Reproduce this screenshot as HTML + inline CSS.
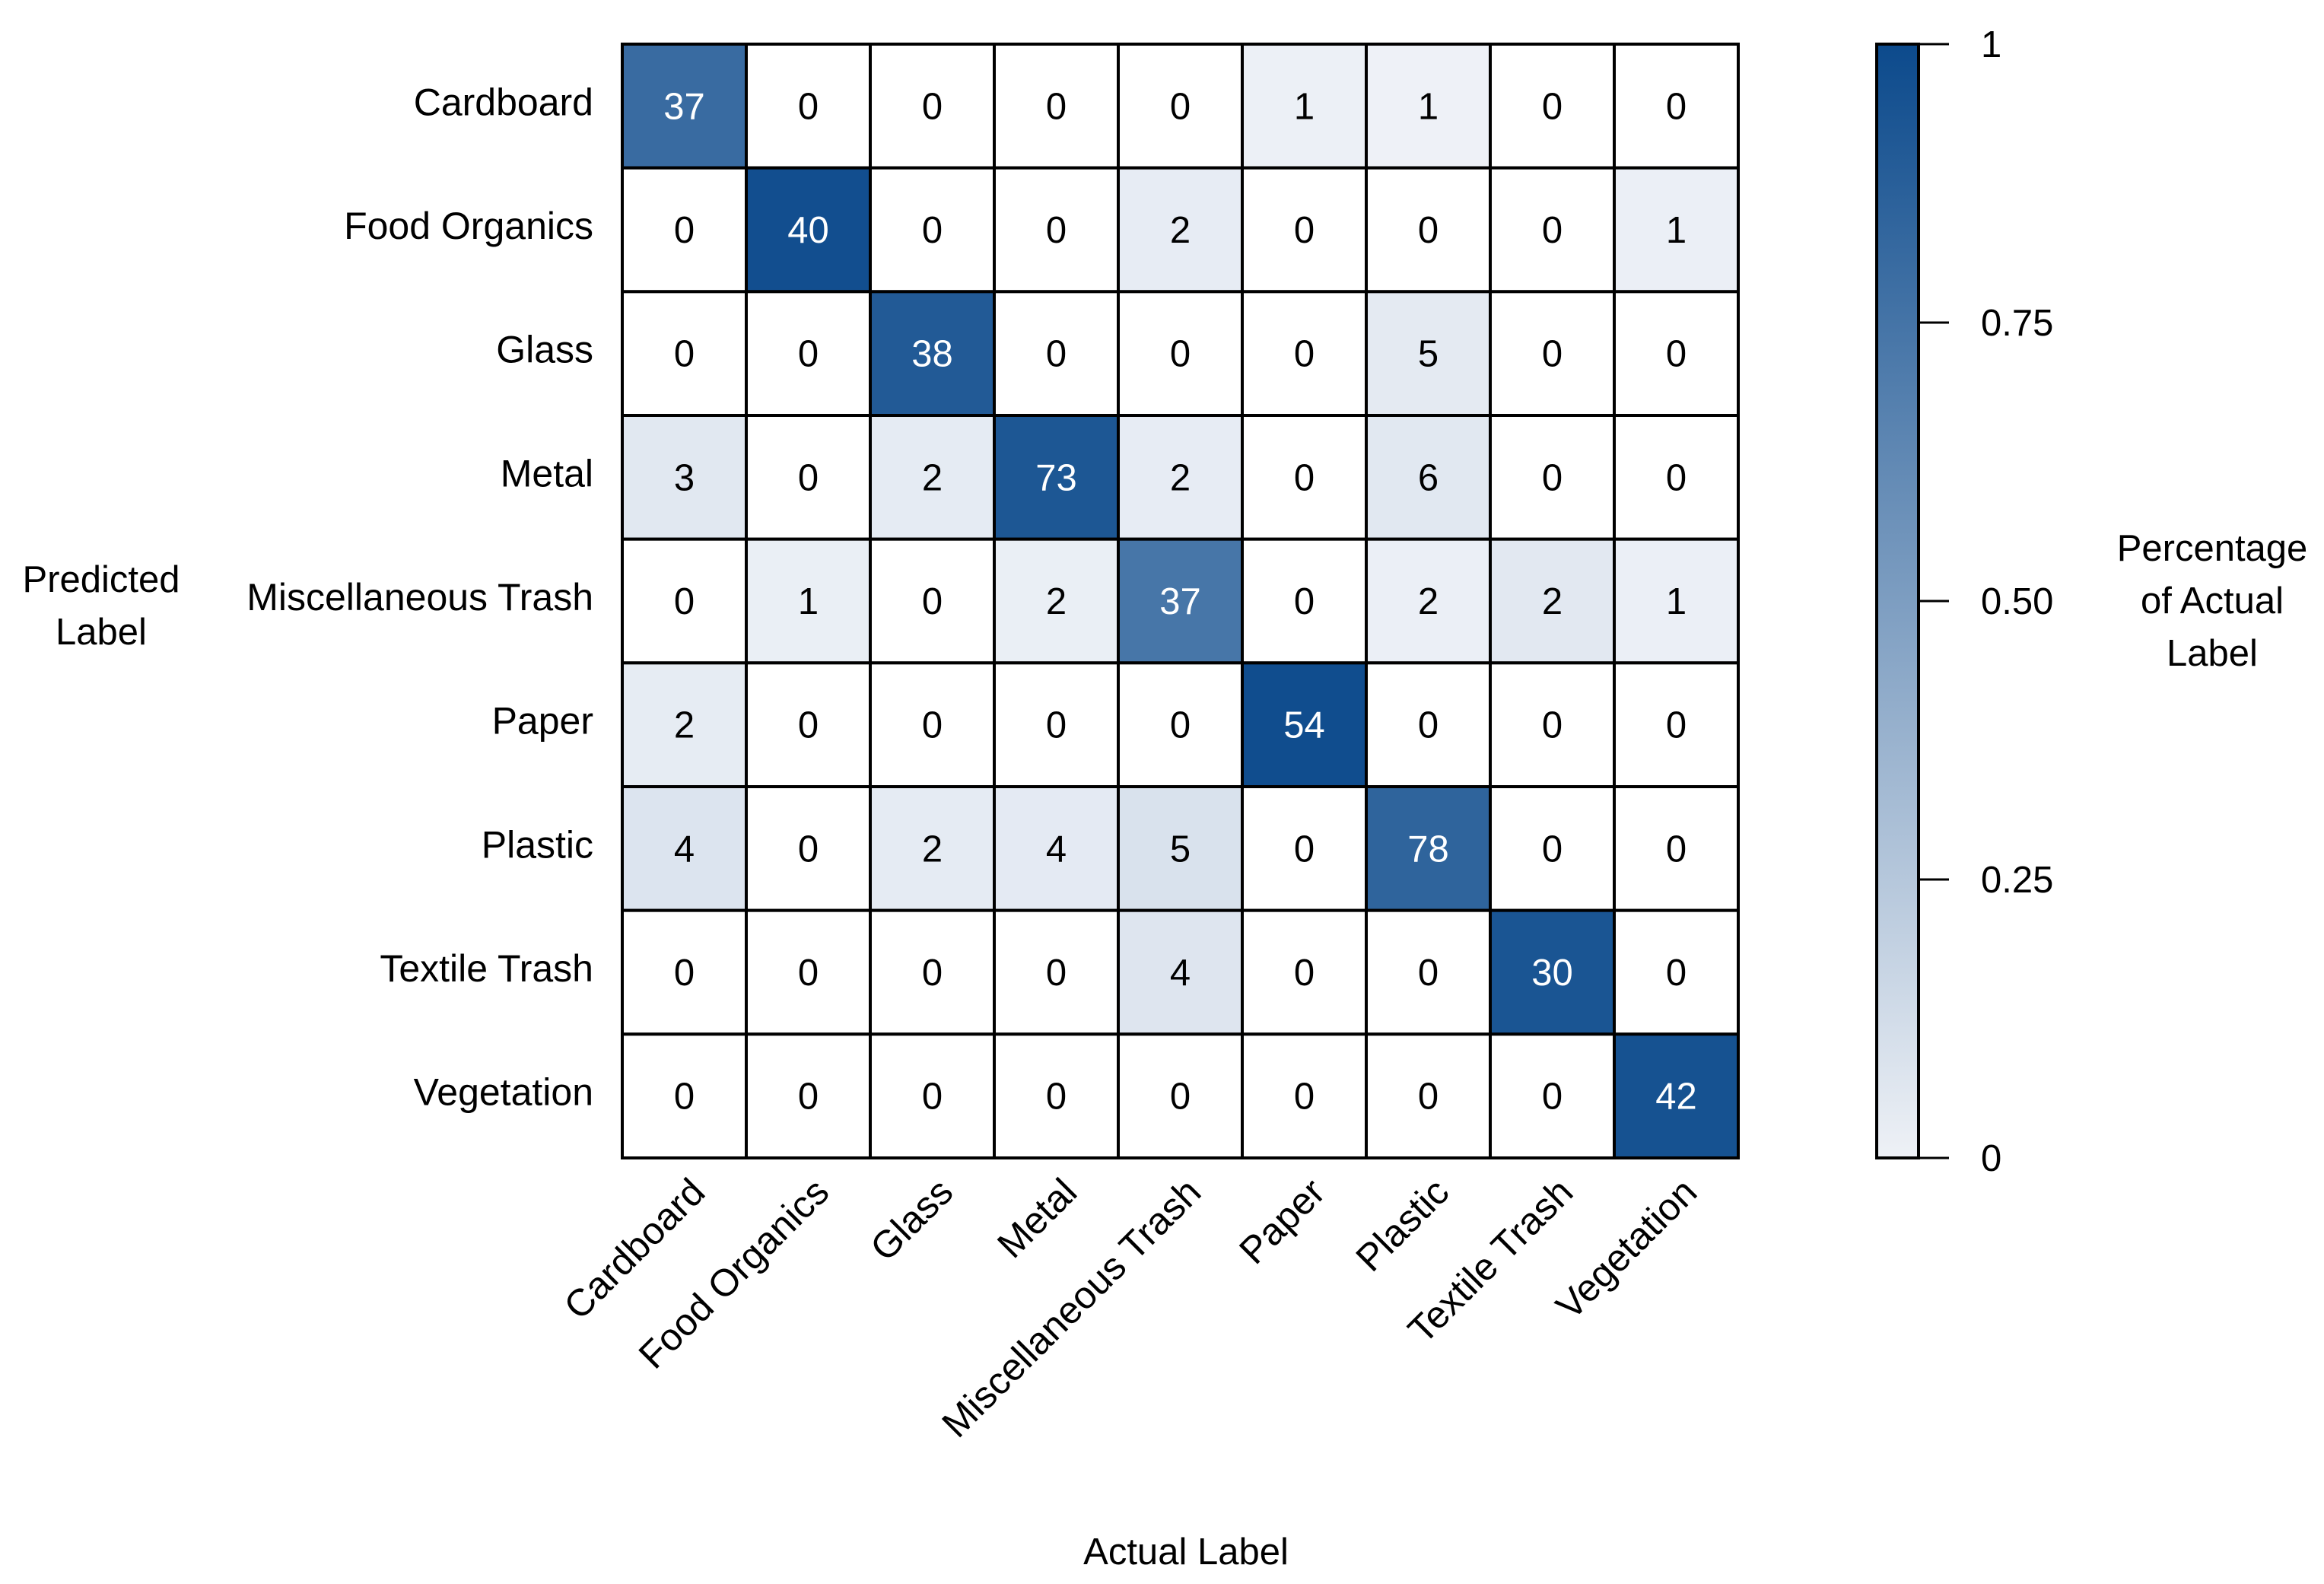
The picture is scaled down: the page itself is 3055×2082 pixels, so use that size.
<!DOCTYPE html>
<html><head><meta charset="utf-8"><style>
html,body{margin:0;padding:0;background:#fff;}
svg{display:block;font-family:"Liberation Sans",sans-serif;}
</style></head><body>
<svg id="chart" width="3055" height="2082" viewBox="0 0 3055 2082" xmlns="http://www.w3.org/2000/svg">
<defs><linearGradient id="cbgrad" x1="0" y1="1" x2="0" y2="0"><stop offset="0" stop-color="#eef1f6"/><stop offset="1" stop-color="#0c4a8c"/></linearGradient></defs>
<g id="cells"></g>
<g id="labels"></g>
<g id="cbar"></g>
<text x="133" y="778" font-size="49" text-anchor="middle">Predicted</text>
<text x="133" y="847" font-size="49" text-anchor="middle">Label</text>
<text x="1559" y="2056" font-size="49" text-anchor="middle">Actual Label</text>
<text x="2908" y="737" font-size="49" text-anchor="middle">Percentage</text>
<text x="2908" y="806" font-size="49" text-anchor="middle">of Actual</text>
<text x="2908" y="875" font-size="49" text-anchor="middle">Label</text>
</svg>
<script>
const categories = ["Cardboard","Food Organics","Glass","Metal","Miscellaneous Trash","Paper","Plastic","Textile Trash","Vegetation"];
const rowCardboard = [37,0,0,0,0,1,1,0,0];
const rowFood = [0,40,0,0,2,0,0,0,1];
const rowGlass = [0,0,38,0,0,0,5,0,0];
const rowMetal = [3,0,2,73,2,0,6,0,0];
const rowMisc = [0,1,0,2,37,0,2,2,1];
const rowPaper = [2,0,0,0,0,54,0,0,0];
const rowPlastic = [4,0,2,4,5,0,78,0,0];
const rowTextile = [0,0,0,0,4,0,0,30,0];
const rowVeg = [0,0,0,0,0,0,0,0,42];
const matrix = [rowCardboard,rowFood,rowGlass,rowMetal,rowMisc,rowPaper,rowPlastic,rowTextile,rowVeg];
const cbTicks = [0,0.25,0.5,0.75,1];
const cbTickLabels = ["0","0.25","0.50","0.75","1"];

const NS="http://www.w3.org/2000/svg";
const X0=818,Y0=58,W=1467,H=1464;
const n=categories.length, cw=W/n, ch=H/n;
const xs=i=>X0+i*cw, ys=j=>Y0+j*ch;
const c0=[240,243,248], c1=[12,74,140];
function col(t){if(t<=0)return "#ffffff";return "rgb("+c0.map((v,k)=>Math.round(v+(c1[k]-v)*t)).join(",")+")";}
function mk(tag,attrs,parent){const e=document.createElementNS(NS,tag);for(const k in attrs)e.setAttribute(k,attrs[k]);parent.appendChild(e);return e;}
const colSum=categories.map((_,c)=>matrix.reduce((s,r)=>s+r[c],0));
const gC=document.getElementById('cells'), gL=document.getElementById('labels'), gB=document.getElementById('cbar');
matrix.forEach((row,r)=>row.forEach((v,c)=>{
  const t=colSum[c]?v/colSum[c]:0;
  const rc=mk('rect',{x:xs(c),y:ys(r),width:cw,height:ch,fill:col(t),stroke:"#000","stroke-width":4},gC);
  
  
  const tx=mk('text',{x:xs(c)+cw/2,y:ys(r)+ch/2+17,"font-size":49,"text-anchor":"middle",fill:t>0.5?"#fff":"#000"},gC);
  tx.textContent=v;
  
  
}));
categories.forEach((name,i)=>{
  const t=mk('text',{x:780,y:ys(i)+ch/2+12,"font-size":50,"text-anchor":"end"},gL);
  t.textContent=name;
  
  
  const cx=xs(i)+cw/2+30, cy=Y0+H+48;
  const u=mk('text',{x:cx,y:cy,"font-size":50,"text-anchor":"end",transform:"rotate(-45 "+cx+" "+cy+")"},gL);
  u.textContent=name;
  
  
});
const CBX=2467,CBW=55;
const cy=v=>Y0+H-v*H;
const bar=mk('rect',{x:CBX,y:Y0,width:CBW,height:H,fill:"url(#cbgrad)",stroke:"#000","stroke-width":4},gB);


cbTicks.forEach((v,i)=>{
  const l=mk('line',{x1:CBX+CBW,x2:CBX+CBW+40,y1:cy(v),y2:cy(v),stroke:"#000","stroke-width":3},gB);
  
  
  const t=mk('text',{x:2604,y:cy(v)+17,"font-size":49},gB);
  t.textContent=cbTickLabels[i];
  
  
});
</script>
</body></html>
